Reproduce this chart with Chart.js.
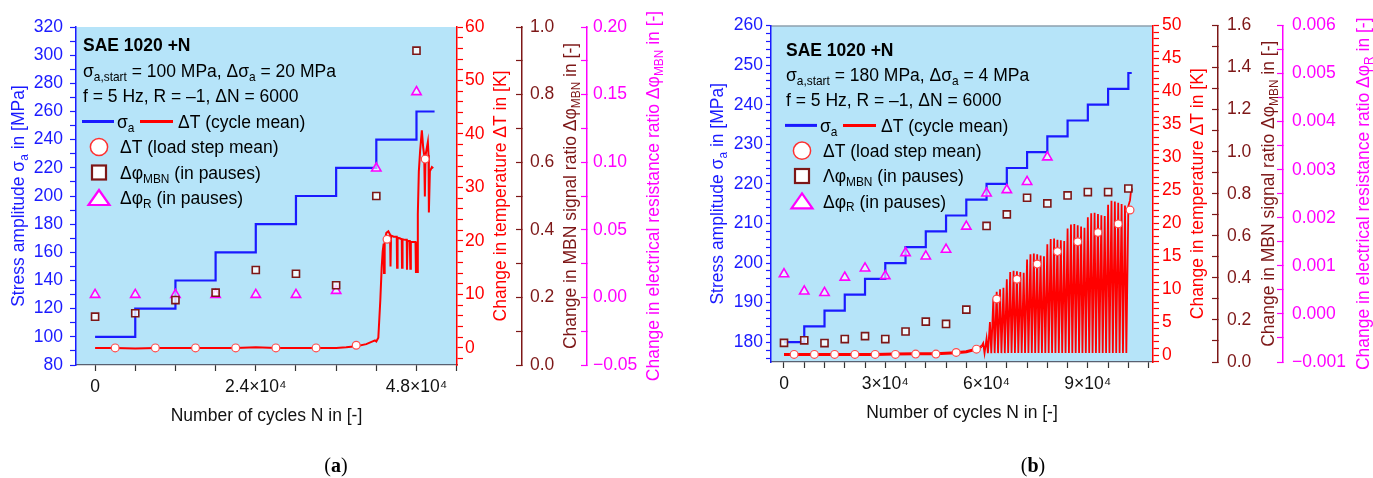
<!DOCTYPE html>
<html>
<head>
<meta charset="utf-8">
<script src="https://cdn.jsdelivr.net/npm/chart.js@4.4.1/dist/chart.umd.min.js"></script>
<style>
  body { margin: 0; background: #fff; width: 1373px; height: 478px; overflow: hidden; position: relative; }
  .panel { position: absolute; top: 0; height: 478px; }
  #pa { left: 0; width: 690px; }
  #pb { left: 690px; width: 683px; }
</style>
</head>
<body>
<div class="panel" id="pa"><canvas id="chartA"></canvas></div>
<div class="panel" id="pb"><canvas id="chartB"></canvas></div>
<script>
// ---------- panel (a): sigma_a,start = 100 MPa, step 20 MPa ----------
const sigA_N = [0, 6000, 12000, 18000, 24000, 30000, 36000, 42000, 48000, 50700];
const sigA   = [100, 120, 140, 160, 180, 200, 220, 240, 260, 260];

const dTA_N = [0, 3000, 6000, 9000, 12000, 15000, 18000, 21000, 24000, 27000, 30000, 33000, 36000,
  37500, 39000, 40500, 41800, 42000, 42300, 42600, 42800, 42950, 43100, 43150, 43250, 43500, 43800,
  44050, 44120, 44200, 44600, 45050, 45100, 45180, 45500, 45800, 45840, 45920, 46300, 46550, 46580,
  46660, 47000, 47080, 47160, 47500, 47850, 47920, 48000, 48100, 48200, 48350, 48550, 48800, 49000,
  49150, 49250, 49350, 49700, 49800, 49850, 50000, 50300, 50500];
const dTA = [0, 0, -0.1, 0, 0, 0, 0, 0, 0.1, 0, 0, 0, 0,
  0.1, 0.3, 0.7, 1.4, 1.2, 1.9, 9, 15, 18, 19.5, 14, 20, 21.5, 21.8,
  21.2, 15.2, 21, 20.8, 20.8, 15, 20.6, 20.5, 20.3, 15, 20.3, 20.2, 20.2, 14.6,
  20, 20, 14.8, 19.8, 19.8, 19.8, 14, 19.6, 14.2, 25, 33, 37, 40.7, 37.5,
  36, 28.3, 36, 38.5, 36, 25.3, 33, 33.8, 33.6];

const meanA_N = [3000, 9000, 15000, 21000, 27000, 33000, 39000, 43600, 49300];
const meanA   = [0, 0, 0, 0, 0, 0, 0.5, 20.3, 35.3];

const pauseA_N = [0, 6000, 12000, 18000, 24000, 30000, 36000, 42000, 48000];
const mbnA     = [0.143, 0.153, 0.192, 0.214, 0.281, 0.270, 0.236, 0.500, 0.930];
const resA     = [0.002, 0.002, 0.002, 0.002, 0.002, 0.002, 0.005, 0.0955, 0.152];

const xTicksA     = [0, 6000, 12000, 18000, 24000, 30000, 36000, 42000, 48000, 54000];
const xLabelValsA = [0, 24000, 48000];
const xLabelTxtA  = ['0', '2.4×10⁴', '4.8×10⁴'];

// ---------- panel (b): sigma_a,start = 180 MPa, step 4 MPa ----------
const sigB_N = [0, 6000, 12000, 18000, 24000, 30000, 36000, 42000, 48000, 54000, 60000, 66000,
  72000, 78000, 84000, 90000, 96000, 102000, 103000];
const sigB   = [180, 184, 188, 192, 196, 200, 204, 208, 212, 216, 220, 224, 228, 232, 236, 240, 244, 248, 248];

const dTB_N = [0, 3000, 9000, 15000, 21000, 27000, 33000, 39000, 45000, 51000, 54000, 57000, 58500,
  59000, 59400, 60000, 60400, 61000, 61400, 62000, 62400, 63000, 63400, 64000, 64400, 65000, 65400,
  66000, 66400, 67000, 67400, 68000, 68400, 69000, 69400, 70000, 70400, 71000, 71400,
  72000, 72400, 73000, 73400, 74000, 74400, 75000, 75400, 76000, 76400, 77000, 77400,
  78000, 78400, 79000, 79400, 80000, 80400, 81000, 81400, 82000, 82400, 83000, 83400,
  84000, 84400, 85000, 85400, 86000, 86400, 87000, 87400, 88000, 88400, 89000, 89400,
  90000, 90400, 91000, 91400, 92000, 92400, 93000, 93400, 94000, 94400, 95000, 95400,
  96000, 96400, 97000, 97400, 98000, 98400, 99000, 99400, 100000, 100400, 101000, 101400,
  102000, 102500, 102800, 103000];
const dTB = [0.1, 0.1, 0.1, 0.1, 0.1, 0.1, 0.15, 0.2, 0.2, 0.35, 0.5, 0.9, 1.3,
  1.8, 0.3, 2.5, 0.3, 5, 0.3, 8.5, 0.3, 9.6, 0.3, 10, 0.3, 10.2, 0.3,
  11.5, 0.3, 12.6, 0.3, 12.8, 0.3, 12.7, 0.3, 12.6, 0.3, 12.5, 0.3,
  14.5, 0.3, 15.3, 0.3, 15.4, 0.3, 15.3, 0.3, 15.1, 0.3, 15, 0.3,
  16.8, 0.3, 17.6, 0.3, 17.7, 0.3, 17.5, 0.3, 17.4, 0.3, 17.3, 0.3,
  19.2, 0.3, 19.8, 0.3, 19.9, 0.3, 19.7, 0.3, 19.5, 0.3, 19.3, 0.3,
  20.9, 0.3, 21.5, 0.3, 21.6, 0.3, 21.4, 0.3, 21.2, 0.3, 21.1, 0.3,
  22.8, 0.3, 23.4, 0.3, 23.3, 0.3, 23.1, 0.3, 22.9, 0.3, 22.7, 0.3,
  22.6, 23.5, 25, 25.3];

const meanB_N = [3000, 9000, 15000, 21000, 27000, 33000, 39000, 45000, 51000, 57000, 63000, 69000,
  75000, 81000, 87000, 93000, 99000, 102500];
const meanB   = [0.1, 0.1, 0.1, 0.1, 0.1, 0.1, 0.15, 0.15, 0.4, 0.9, 8.5, 11.5, 13.8, 15.7, 17.2, 18.6, 19.9, 22];

const pauseB_N = [0, 6000, 12000, 18000, 24000, 30000, 36000, 42000, 48000, 54000, 60000, 66000,
  72000, 78000, 84000, 90000, 96000, 102000];
const mbnB = [0.091, 0.103, 0.090, 0.109, 0.123, 0.109, 0.145, 0.192, 0.181, 0.249, 0.647, 0.702,
  0.781, 0.754, 0.792, 0.808, 0.808, 0.825];
const resB_N = [0, 6000, 12000, 18000, 24000, 30000, 36000, 42000, 48000, 54000, 60000, 66000, 72000, 78000];
const resB = [0.00083, 0.00047, 0.00044, 0.00076, 0.00095, 0.00079, 0.00127, 0.0012, 0.00134, 0.00182,
  0.00251, 0.00258, 0.00275, 0.00326];

const xTicksB     = [0, 6000, 12000, 18000, 24000, 30000, 36000, 42000, 48000, 54000, 60000, 66000,
  72000, 78000, 84000, 90000, 96000, 102000, 108000];
const xLabelValsB = [0, 30000, 60000, 90000];
const xLabelTxtB  = ['0', '3×10⁴', '6×10⁴', '9×10⁴'];

// ---------- styling ----------
const FONT = '"Liberation Sans", Arial, Helvetica, sans-serif';
const FS = 17.5;
Chart.defaults.font.family = FONT;
Chart.defaults.font.size = FS;
Chart.defaults.color = '#000';

const BLUE = '#1a1aff', RED = '#ff0000', MAROON = '#7d1717', MAGENTA = '#ff00ff', AXIS = '#596070';
const PLOT_BG = '#b6e4f9';

const pts = (xs, ys) => xs.map((x, i) => ({ x: x, y: ys[i] }));
const isMul = (v, m) => Math.abs(v / m - Math.round(v / m)) < 1e-6;

function yAxis(o) {
  return {
    type: 'linear', position: o.pos, min: o.min, max: o.max, weight: o.weight,
    afterFit: s => { s.width = o.w; },
    border: { display: true, color: o.color, width: 1.5 },
    grid: { drawOnChartArea: false, drawTicks: true, tickLength: o.tl, color: o.color, tickWidth: 1.2 },
    ticks: {
      stepSize: o.minor, autoSkip: false, maxTicksLimit: 400, includeBounds: false,
      padding: o.pad, color: o.color,
      callback: v => isMul(v, o.major) ? v.toFixed(o.dec).replace('-', '\u2212') : ''
    }
  };
}

function xAxis(o) {
  return {
    type: 'linear', position: 'bottom', min: o.min, max: o.max,
    afterFit: s => { s.height = o.h; },
    afterBuildTicks: s => { s.ticks = o.ticks.map(v => ({ value: v })); },
    border: { display: true, color: AXIS, width: 1.2 },
    grid: { drawOnChartArea: false, tickLength: 6, color: '#333', tickWidth: 1.2 },
    ticks: {
      autoSkip: false, padding: 6, color: '#111', maxRotation: 0, minRotation: 0,
      callback: v => { const i = o.vals.indexOf(v); return i >= 0 ? o.txt[i] : ''; }
    }
  };
}

// rich text with "_sub" parts
function setFont(ctx, size, bold) { ctx.font = (bold ? 'bold ' : '') + size + 'px ' + FONT; }
function richWidth(ctx, parts, size, bold) {
  let w = 0;
  for (const p of parts) {
    const sub = p[0] === '_';
    setFont(ctx, sub ? size * 0.68 : size, bold);
    w += ctx.measureText(sub ? p.slice(1) : p).width;
  }
  return w;
}
function drawRich(ctx, parts, x, y, size, color, align, bold) {
  if (typeof parts === 'string') parts = [parts];
  let cx = align === 'center' ? x - richWidth(ctx, parts, size, bold) / 2 : x;
  ctx.fillStyle = color; ctx.textAlign = 'left'; ctx.textBaseline = 'alphabetic';
  const base = y + size * 0.36;
  for (const p of parts) {
    const sub = p[0] === '_';
    const t = sub ? p.slice(1) : p;
    setFont(ctx, sub ? size * 0.68 : size, bold);
    ctx.fillText(t, cx, sub ? base + size * 0.22 : base);
    cx += ctx.measureText(t).width;
  }
}
function drawVert(ctx, parts, x, y, size, color) {
  ctx.save(); ctx.translate(x, y); ctx.rotate(-Math.PI / 2);
  drawRich(ctx, parts, 0, 0, size, color, 'center'); ctx.restore();
}

function symCircle(ctx, x, y) {
  ctx.beginPath(); ctx.arc(x, y, 8.6, 0, Math.PI * 2);
  ctx.fillStyle = '#fff'; ctx.fill(); ctx.lineWidth = 1.5; ctx.strokeStyle = '#ff3030'; ctx.stroke();
}
function symSquare(ctx, x, y) {
  ctx.fillStyle = '#fff'; ctx.fillRect(x - 7, y - 7, 14, 14);
  ctx.lineWidth = 2.2; ctx.strokeStyle = MAROON; ctx.strokeRect(x - 7, y - 7, 14, 14);
}
function symTri(ctx, x, y) {
  ctx.beginPath(); ctx.moveTo(x, y - 8); ctx.lineTo(x + 10.5, y + 7); ctx.lineTo(x - 10.5, y + 7); ctx.closePath();
  ctx.fillStyle = '#fff'; ctx.fill(); ctx.lineWidth = 2.2; ctx.strokeStyle = MAGENTA; ctx.stroke();
}
function seg(ctx, x1, x2, y, color) {
  ctx.beginPath(); ctx.moveTo(x1, y); ctx.lineTo(x2, y);
  ctx.lineWidth = 3; ctx.strokeStyle = color; ctx.stroke();
}

function decoPlugin(c) {
  return {
    id: 'deco' + c.id,
    beforeDraw(chart) {
      const { ctx, chartArea: a } = chart;
      ctx.save(); ctx.fillStyle = PLOT_BG;
      ctx.fillRect(a.left, a.top, a.right - a.left, a.bottom - a.top);
      if (c.topBorder) {
        ctx.beginPath(); ctx.moveTo(a.left, a.top + 0.5); ctx.lineTo(a.right, a.top + 0.5);
        ctx.lineWidth = 1; ctx.strokeStyle = '#7a7f88'; ctx.stroke();
      }
      ctx.restore();
    },
    afterDraw(chart) {
      const { ctx, chartArea: a, scales: s } = chart;
      const cy = (a.top + a.bottom) / 2;
      ctx.save();
      // axis titles
      drawVert(ctx, ['Stress amplitude σ', '_a', ' in [MPa]'], a.left - c.off[0], cy, FS, BLUE);
      drawVert(ctx, 'Change in temperature ΔT in [K]', s.yT.left + c.off[1], cy, FS, RED);
      drawVert(ctx, ['Change in MBN signal ratio Δφ', '_MBN', ' in [-]'], s.yM.left + c.off[2], cy, FS, MAROON);
      drawVert(ctx, c.resTitle, s.yR.left + c.off[3], cy, FS, MAGENTA);
      drawRich(ctx, 'Number of cycles N in [-]', (a.left + a.right) / 2, a.bottom + 50, FS, '#111', 'center');
      // panel caption
      const SERIF = '"Liberation Serif", "DejaVu Serif", serif';
      ctx.font = '20px ' + SERIF;
      const w1 = ctx.measureText('(').width, w3 = ctx.measureText(')').width;
      ctx.font = 'bold 20px ' + SERIF;
      const w2 = ctx.measureText(c.cap).width;
      const x0 = c.capX - (w1 + w2 + w3) / 2;
      ctx.fillStyle = '#000'; ctx.textBaseline = 'middle'; ctx.textAlign = 'left';
      ctx.font = '20px ' + SERIF;
      ctx.fillText('(', x0, 467);
      ctx.fillText(')', x0 + w1 + w2, 467);
      ctx.font = 'bold 20px ' + SERIF;
      ctx.fillText(c.cap, x0 + w1, 467);
      // legend box
      const lx = a.left + c.leg[0], ly = a.top + c.leg[1], dy = c.leg[2];
      drawRich(ctx, 'SAE 1020 +N', lx, ly, FS, '#000', 'left', true);
      drawRich(ctx, c.line1, lx, ly + dy, FS, '#000', 'left');
      drawRich(ctx, 'f = 5 Hz, R = –1, ΔN = 6000', lx, ly + 2 * dy, FS, '#000', 'left');
      seg(ctx, lx - 1, lx + 31, ly + 3 * dy, BLUE);
      drawRich(ctx, ['σ', '_a'], lx + 34, ly + 3 * dy, FS, '#000', 'left');
      seg(ctx, lx + 57, lx + 90, ly + 3 * dy, RED);
      drawRich(ctx, 'ΔT (cycle mean)', lx + 95, ly + 3 * dy, FS, '#000', 'left');
      symCircle(ctx, lx + 16, ly + 4 * dy);
      drawRich(ctx, 'ΔT (load step mean)', lx + 37, ly + 4 * dy, FS, '#000', 'left');
      symSquare(ctx, lx + 16, ly + 5 * dy);
      drawRich(ctx, [c.mbnSym, '_MBN', ' (in pauses)'], lx + 37, ly + 5 * dy, FS, '#000', 'left');
      symTri(ctx, lx + 16, ly + 6 * dy);
      drawRich(ctx, ['Δφ', '_R', ' (in pauses)'], lx + 37, ly + 6 * dy, FS, '#000', 'left');
      ctx.restore();
    }
  };
}

function datasets(d) {
  return [
    { label: 'ΔT (load step mean)', data: pts(d.meanN, d.mean), yAxisID: 'yT', showLine: false,
      pointStyle: 'circle', pointRadius: 3.9, pointBackgroundColor: '#fff', pointBorderColor: '#ff4a4a', pointBorderWidth: 1.2 },
    { label: 'Δφ MBN', data: pts(d.pauseN, d.mbn), yAxisID: 'yM', showLine: false,
      pointStyle: 'rect', pointRadius: 5, pointBackgroundColor: 'rgba(255,255,255,0.8)', pointBorderColor: MAROON, pointBorderWidth: 1.6 },
    { label: 'Δφ R', data: pts(d.resN, d.res), yAxisID: 'yR', showLine: false,
      pointStyle: 'triangle', pointRadius: 5.4, pointBackgroundColor: 'rgba(255,255,255,0.6)', pointBorderColor: MAGENTA, pointBorderWidth: 1.6 },
    { label: 'ΔT (cycle mean)', data: pts(d.dTN, d.dT), yAxisID: 'yT', showLine: true, pointRadius: 0,
      borderColor: RED, borderWidth: 2, tension: 0,
      segment: { borderWidth: c => (d.thinAfter !== undefined && c.p0.parsed.x >= d.thinAfter) ? 1.8 : d.thick } },
    { label: 'σa', data: pts(d.sigN, d.sig), yAxisID: 'y', showLine: true, stepped: true, pointRadius: 0,
      borderColor: BLUE, borderWidth: 2.2 }
  ];
}

function build(id, d, sc, deco, pad) {
  return new Chart(document.getElementById(id), {
    type: 'scatter',
    data: { datasets: datasets(d) },
    options: {
      responsive: true, maintainAspectRatio: false, animation: false, devicePixelRatio: 1,
      layout: { padding: pad },
      plugins: { legend: { display: false }, tooltip: { enabled: false } },
      scales: sc
    },
    plugins: [decoPlugin(deco)]
  });
}

// (a)
build('chartA',
  { sigN: sigA_N, sig: sigA, dTN: dTA_N, dT: dTA, meanN: meanA_N, mean: meanA,
    pauseN: pauseA_N, mbn: mbnA, resN: pauseA_N, res: resA, thick: 2 },
  {
    x: xAxis({ min: -2850, max: 54050, h: 113, ticks: xTicksA, vals: xLabelValsA, txt: xLabelTxtA }),
    y: yAxis({ pos: 'left', min: 80, max: 320, minor: 10, major: 20, dec: 0, w: 76, tl: 6, pad: 7, color: BLUE, weight: 0 }),
    yT: yAxis({ pos: 'right', min: -3.2, max: 60, minor: 2, major: 10, dec: 0, w: 65, tl: 6, pad: 2, color: RED, weight: 0 }),
    yM: yAxis({ pos: 'right', min: 0, max: 1, minor: 0.1, major: 0.2, dec: 1, w: 65, tl: -6, pad: 14, color: MAROON, weight: 1 }),
    yR: yAxis({ pos: 'right', min: -0.05, max: 0.2, minor: 0.025, major: 0.05, dec: 2, w: 90, tl: -6, pad: 12, color: MAGENTA, weight: 2 })
  },
  { id: 'A', topBorder: false, off: [58, 43, 48, 66], cap: 'a', capX: 336, leg: [7, 18, 25.5],
    line1: ['σ', '_a,start', ' = 100 MPa, Δσ', '_a', ' = 20 MPa'], mbnSym: 'Δφ',
    resTitle: ['Change in electrical resistance ratio Δφ', '_MBN', ' in [-]'] },
  { top: 27, left: 0, right: 13, bottom: 0 });

// (b)
build('chartB',
  { sigN: sigB_N, sig: sigB, dTN: dTB_N, dT: dTB, meanN: meanB_N, mean: meanB,
    pauseN: pauseB_N, mbn: mbnB, resN: resB_N, res: resB, thick: 3, thinAfter: 58500 },
  {
    x: xAxis({ min: -3850, max: 109300, h: 116, ticks: xTicksB, vals: xLabelValsB, txt: xLabelTxtB }),
    y: yAxis({ pos: 'left', min: 175, max: 260, minor: 2, major: 10, dec: 0, w: 81, tl: 5, pad: 3, color: BLUE, weight: 0 }),
    yT: yAxis({ pos: 'right', min: -1.05, max: 50, minor: 1, major: 5, dec: 0, w: 65, tl: 6, pad: 3, color: RED, weight: 0 }),
    yM: yAxis({ pos: 'right', min: 0, max: 1.6, minor: 0.1, major: 0.2, dec: 1, w: 65, tl: -6, pad: 15, color: MAROON, weight: 1 }),
    yR: yAxis({ pos: 'right', min: -0.001, max: 0.006, minor: 0.0005, major: 0.001, dec: 3, w: 90, tl: -6, pad: 15, color: MAGENTA, weight: 2 })
  },
  { id: 'B', topBorder: true, off: [54, 44, 50, 80], cap: 'b', capX: 343, leg: [15, 24, 25.3],
    line1: ['σ', '_a,start', ' = 180 MPa, Δσ', '_a', ' = 4 MPa'], mbnSym: 'Λφ',
    resTitle: ['Change in electrical resistance ratio Δφ', '_R', ' in [-]'] },
  { top: 23, left: 0, right: 0, bottom: 0 });
</script>
</body>
</html>
